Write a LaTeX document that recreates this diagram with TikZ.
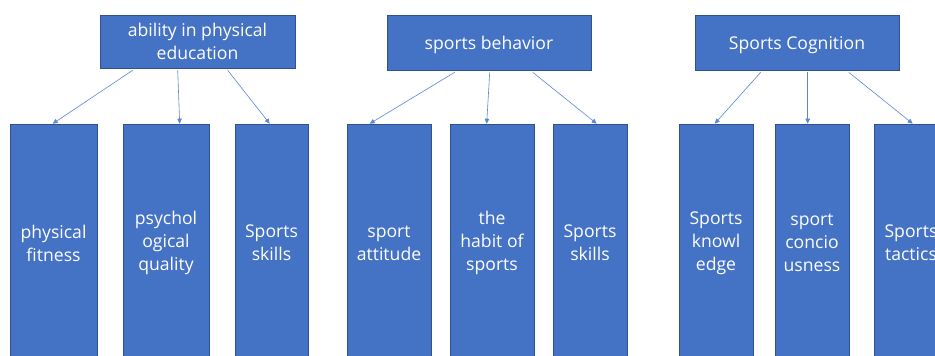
\documentclass[tikz,border=0pt]{standalone}
\usepackage{fontspec}
\setmainfont{Open Sans}
\usetikzlibrary{arrows.meta,calc}
\definecolor{boxblue}{HTML}{4472C4}
\definecolor{boxedge}{HTML}{2F528F}
\definecolor{arrowblue}{HTML}{5B87D0}
\begin{document}
\begin{tikzpicture}[x=1pt,y=-1pt,
  box/.style={draw=boxedge, line width=0.6pt, fill=boxblue, text=white, inner sep=0pt, align=center, font=\fontsize{17.6}{23}\selectfont},
  topbox/.style={box, minimum width=#1, minimum height=55pt},
  colbox/.style={box, minimum width=#1, minimum height=238pt},
  link/.style={draw=arrowblue, line width=0.6pt, -{Triangle[length=5pt,width=4.5pt]}}]
\clip (0,0) rectangle (935,356);
\fill[white] (0,0) rectangle (935,356);
% top boxes
\node[topbox=195pt, minimum height=53pt] (t1) at (197.5,41.5) {ability in physical\\education};
\node[topbox=204pt] (t2) at (489,42.5) {\raisebox{-2.5pt}[\height][\depth]{sports behavior}};
\node[topbox=204pt] (t3) at (797,42.5) {\raisebox{-2.5pt}[\height][\depth]{Sports Cognition}};
% column boxes
\node[colbox=87pt] (b1) at (53.5,243) {physical\\fitness};
\node[colbox=86pt] (b2) at (166,243) {psychol\\ogical\\quality};
\node[colbox=73pt] (b3) at (271.5,243) {Sports\\skills};
\node[colbox=84pt] (b4) at (389,243) {sport\\attitude};
\node[colbox=84pt] (b5) at (492,243) {the\\habit of\\sports};
\node[colbox=74pt] (b6) at (590,243) {Sports\\skills};
\node[colbox=74pt] (b7) at (716,243) {Sports\\knowl\\edge};
\node[colbox=74pt] (b8) at (812,243) {sport\\concio\\usness};
\node[colbox=74pt] (b9) at (911,243) {Sports\\tactics};
% connectors
\draw[link] ($(t1.south west)+(33,2)$) -- ($(b1.north west)+(43,0)$);
\draw[link] ($(t1.south west)+(78,2)$) -- ($(b2.north west)+(57,0)$);
\draw[link] ($(t1.south west)+(128,2)$) -- ($(b3.north west)+(35,0)$);
\draw[link] ($(t2.south west)+(68,2)$) -- ($(b4.north west)+(23,0)$);
\draw[link] ($(t2.south west)+(103,2)$) -- ($(b5.north west)+(37,0)$);
\draw[link] ($(t2.south west)+(146,2)$) -- ($(b6.north west)+(44,0)$);
\draw[link] ($(t3.south west)+(66,2)$) -- ($(b7.north west)+(36,0)$);
\draw[link] ($(t3.south west)+(113,2)$) -- ($(b8.north west)+(33,0)$);
\draw[link] ($(t3.south west)+(154,2)$) -- ($(b9.north west)+(39,0)$);
\end{tikzpicture}
\end{document}
